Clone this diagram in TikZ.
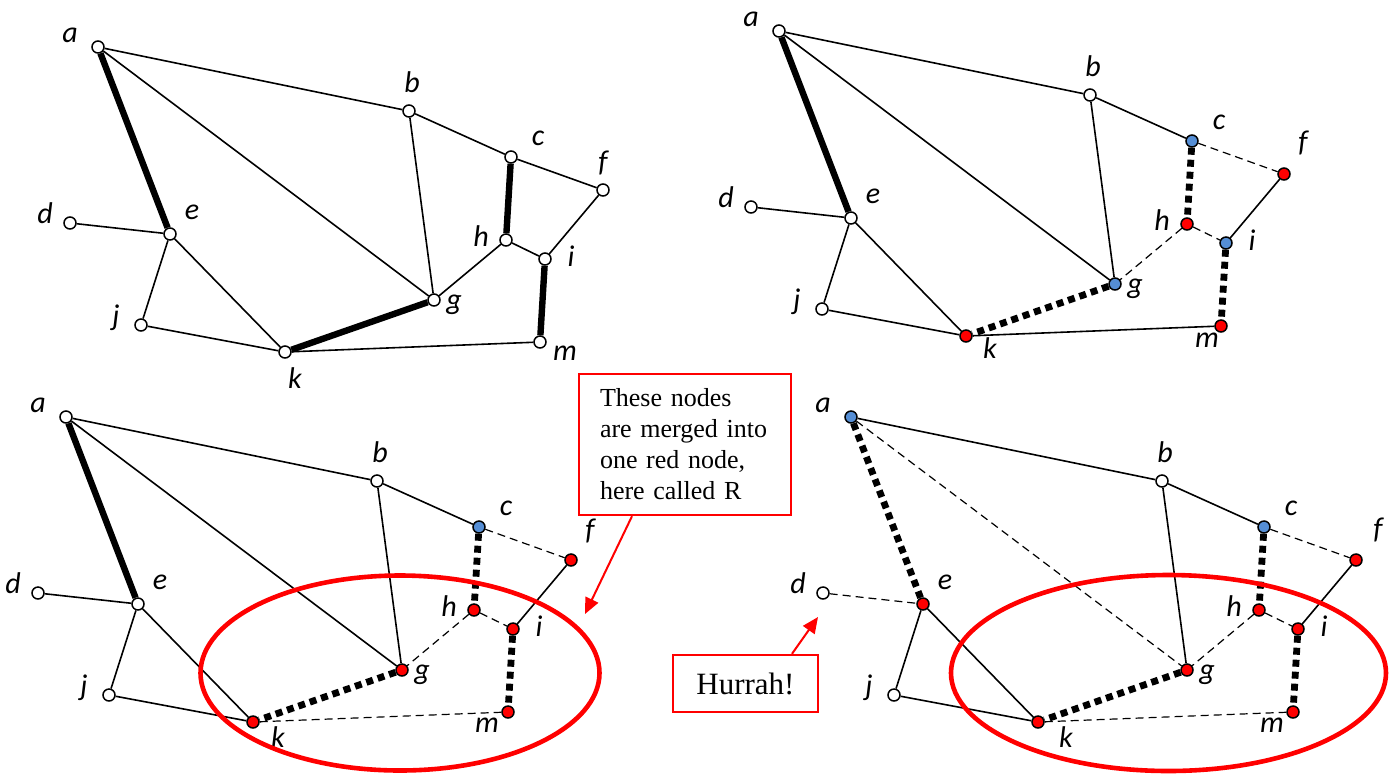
\documentclass[tikz,border=0pt]{standalone}
\usepackage{fontspec}
\setmainfont{Liberation Serif}
\newfontfamily\lblfont{Carlito}
\usetikzlibrary{arrows.meta}
\definecolor{nodeblue}{RGB}{85,142,213}

\tikzset{
  vtx/.style={circle,draw,line width=0.75pt,fill=white,inner sep=0pt,minimum size=6pt},
  blu/.style={fill=nodeblue},
  rd/.style={fill=red},
  lbl/.style={font=\lblfont\itshape\fontsize{15}{15}\selectfont,inner sep=0pt},
  plain/.style={line width=0.8pt},
  heavy/.style={line width=3.2pt},
  lightdash/.style={line width=0.6pt,dash pattern=on 4pt off 2.5pt},
  heavydash/.style={line width=3.4pt,dash pattern=on 3.5pt off 2.5pt},
  ring/.style={draw=red,line width=2.3pt},
  callout/.style={draw=red,line width=1.2pt,fill=white},
  pointer/.style={red,line width=1pt,-{Triangle[length=8pt,width=7pt]}}
}

% vertices of one graph; #1, #2, #3 = label offsets of f, k and m
\newcommand{\vertices}[3]{%
\foreach \n/\x/\y/\lx/\ly in {a/98/47/-28/-12, b/409/111/3/-29, c/511/157/27/-19,
  d/70/223/-25/-10, e/170/234/22/-22, f/603/190/#1, g/434/300/20/5,
  h/506/240/-25/-4, i/545/259/26/-3, j/141/325/-25/-7, k/285/352/#2, m/540/342/#3}{
  \node[vtx,col-\n/.try] (\n) at (\x,\y) {};
  \node[lbl] (\n-lab) at ([shift={(\lx,\ly)}]\n) {\n};
}}
% edges that look the same in all four graphs
\newcommand{\commonedges}{%
\foreach \u/\v in {a/b,b/c,b/g,f/i,e/j,e/k,j/k}
  \draw[plain] (\u) -- (\v);
}

\begin{document}
\begin{tikzpicture}[x=0.5pt,y=-0.5pt]
\useasboundingbox (0,0) rectangle (1393,773);

%---- graph 1: the matching
\begin{scope}[name prefix=p1-]
\vertices{0/-27}{10/26}{25/11}
\commonedges
\foreach \u/\v in {a/g,c/f,h/i,h/g,d/e,k/m} \draw[plain] (\u) -- (\v);
\foreach \u/\v in {a/e,c/h,i/m,g/k} \draw[heavy] (\u) -- (\v);
\end{scope}

%---- graph 2: growing the tree
\begin{scope}[shift={(681,-16)},name prefix=p2-,
  col-c/.style=blu,col-i/.style=blu,col-g/.style=blu,
  col-f/.style=rd,col-h/.style=rd,col-k/.style=rd,col-m/.style=rd]
\vertices{19/-31}{24/12}{-14/14}
\commonedges
\foreach \u/\v in {a/g,d/e,k/m} \draw[plain] (\u) -- (\v);
\draw[heavy] (a) -- (e);
\foreach \u/\v in {c/f,h/i,h/g} \draw[lightdash] (\u) -- (\v);
\foreach \u/\v in {c/h,i/m,g/k} \draw[heavydash] (\u) -- (\v);
\end{scope}

%---- graph 3: the blossom
\begin{scope}[shift={(-32,370)},name prefix=p3-,
  col-c/.style=blu,col-f/.style=rd,col-h/.style=rd,col-i/.style=rd,
  col-g/.style=rd,col-k/.style=rd,col-m/.style=rd]
\vertices{19/-29}{25/15}{-21/13}
\commonedges
\foreach \u/\v in {a/g,d/e} \draw[plain] (\u) -- (\v);
\draw[heavy] (a) -- (e);
\foreach \u/\v in {c/f,h/i,h/g,k/m} \draw[lightdash] (\u) -- (\v);
\foreach \u/\v in {c/h,i/m,g/k} \draw[heavydash] (\u) -- (\v);
\end{scope}

%---- graph 4: after the merge
\begin{scope}[shift={(753,370)},name prefix=p4-,
  col-a/.style=blu,col-c/.style=blu,col-e/.style=rd,col-f/.style=rd,
  col-h/.style=rd,col-i/.style=rd,col-g/.style=rd,col-k/.style=rd,col-m/.style=rd]
\vertices{22/-30}{28/15}{-21/13}
\commonedges
\foreach \u/\v in {a/g,d/e,c/f,h/i,h/g,k/m} \draw[lightdash] (\u) -- (\v);
\foreach \u/\v in {a/e,c/h,i/m,g/k} \draw[heavydash] (\u) -- (\v);
\end{scope}

%---- rings round the merged nodes
\draw[ring] (400,673) ellipse [x radius=99.75pt,y radius=48.75pt];
\draw[ring] (1168.5,673) ellipse [x radius=108.75pt,y radius=49pt];

%---- notes
\node[callout,font=\fontsize{13}{15.5}\selectfont,text width=85pt,align=left,
  inner xsep=10.5pt,minimum height=70.5pt] (merged) at (685,444.5)
  {These nodes\\are merged into\\one red node,\\here called R};
\node[callout,font=\fontsize{15.5}{15.5}\selectfont,minimum width=72.5pt,
  minimum height=28.5pt] (hurrah) at (745.5,683.5) {Hurrah!};
\coordinate (mergetip) at (585,614);
\coordinate (hurrahtip) at (818,617);
\draw[pointer] ([xshift=-26.5pt]merged.south) -- (mergetip);
\draw[pointer] ([xshift=23.25pt]hurrah.north) -- (hurrahtip);
\end{tikzpicture}
\end{document}
